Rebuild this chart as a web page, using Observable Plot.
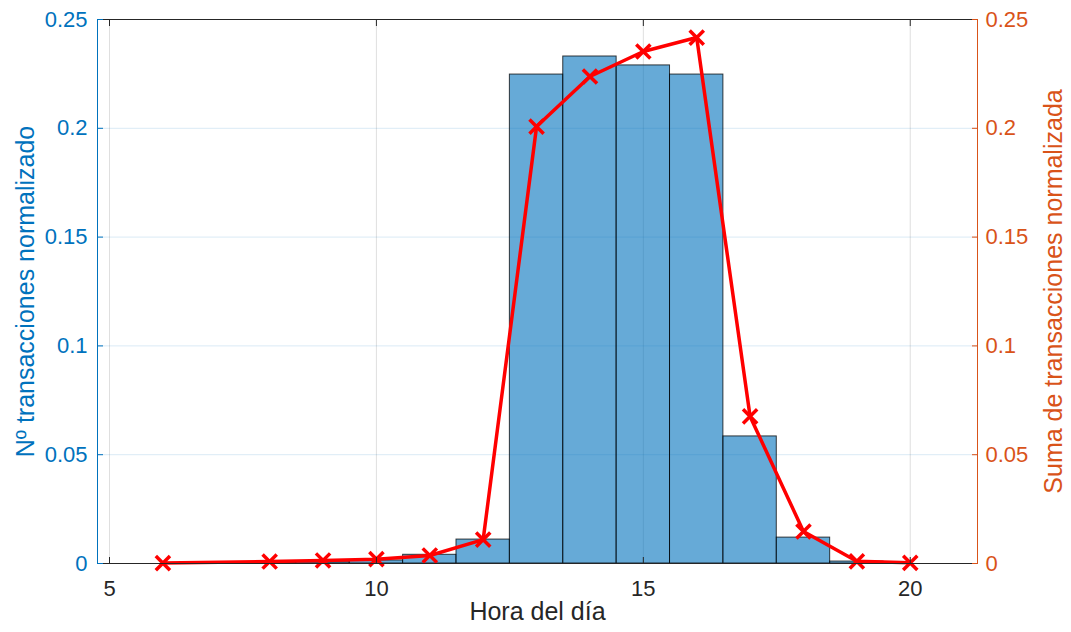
<!DOCTYPE html>
<html><head><meta charset="utf-8">
<script src="https://cdn.jsdelivr.net/npm/d3@7"></script>
<script src="https://cdn.jsdelivr.net/npm/@observablehq/plot@0.6"></script>
<style>html,body{margin:0;padding:0;background:#fff;}</style>
</head><body><div id="chart"></div>
<script>
// Histogram (left axis): hour bins centred on integers, width 1
const barHours  = [8, 9, 10, 11, 12, 13, 14, 15, 16, 17, 18, 19];
const barValues = [0.0003, 0.0006, 0.0014, 0.004, 0.011, 0.2247, 0.2330, 0.2289, 0.2247, 0.0584, 0.0119, 0.0009];
// Line (right axis)
const lineHours  = [6, 8, 9, 10, 11, 12, 13, 14, 15, 16, 17, 18, 19, 20];
const lineValues = [0.0002, 0.0009, 0.0014, 0.002, 0.0037, 0.011, 0.2008, 0.2238, 0.2353, 0.2417, 0.0676, 0.0147, 0.0010, 0.0003];
const xTicks = [5, 10, 15, 20];
const yTicks = [0, 0.05, 0.1, 0.15, 0.2, 0.25];
const yTickLabels = ["0", "0.05", "0.1", "0.15", "0.2", "0.25"];
const xLabel = "Hora del día";
const yLeftLabel = "Nº transacciones normalizado";
const yRightLabel = "Suma de transacciones normalizada";

const BLUE = "#0072BD", ORANGE = "#D95319", DARK = "#262626";
const bars = barHours.map((h, i) => ({h, v: barValues[i]}));
const line = lineHours.map((h, i) => ({h, v: lineValues[i]}));
const fmtY = d => yTickLabels[yTicks.indexOf(d)];

const chart = Plot.plot({
  width: 1071, height: 632,
  marginLeft: 97, marginRight: 94, marginTop: 19, marginBottom: 69,
  style: {fontFamily: "'Liberation Sans', Arial, sans-serif", fontSize: "22px", background: "#fff", overflow: "visible"},
  x: {domain: [4.775, 21.26], axis: null},
  y: {domain: [0, 0.25], axis: null},
  marks: [
    Plot.gridX(xTicks, {stroke: DARK, strokeOpacity: 0.15}),
    Plot.gridY(yTicks, {stroke: BLUE, strokeOpacity: 0.15}),
    Plot.rect(bars, {x1: d => d.h - 0.5, x2: d => d.h + 0.5, y1: 0, y2: "v", fill: BLUE, fillOpacity: 0.6, stroke: "#000", strokeOpacity: 0.75, strokeWidth: 1}),
    Plot.line(line, {x: "h", y: "v", stroke: "#FF0000", strokeWidth: 3.5}),
    Plot.dot(line, {x: "h", y: "v", symbol: "times", r: 6.5, stroke: "#FF0000", strokeWidth: 3.5}),
    Plot.frame({stroke: DARK}),
    Plot.frame({anchor: "left", stroke: BLUE}),
    Plot.frame({anchor: "right", stroke: ORANGE}),
    Plot.axisX(xTicks, {anchor: "bottom", tickSize: 6, insetBottom: 6, tickPadding: 17, color: DARK, fontSize: 22, label: null}),
    Plot.axisX(xTicks, {anchor: "top", tickSize: 6, insetTop: 6, tickFormat: () => "", color: DARK, label: null}),
    Plot.axisY(yTicks, {anchor: "left", tickSize: 6, insetLeft: 6, tickPadding: 10, tickFormat: fmtY, color: BLUE, fontSize: 22, label: null}),
    Plot.axisY(yTicks, {anchor: "right", tickSize: 6, insetRight: 6, tickPadding: 8, tickFormat: fmtY, color: ORANGE, fontSize: 22, label: null}),
    Plot.text([xLabel], {frameAnchor: "bottom", dy: 56, fontSize: 25, fill: DARK, textAnchor: "middle"}),
    Plot.text([yLeftLabel], {frameAnchor: "left", rotate: -90, dx: -72, fontSize: 25, fill: BLUE, textAnchor: "middle"}),
    Plot.text([yRightLabel], {frameAnchor: "right", rotate: -90, dx: 76, fontSize: 25, fill: ORANGE, textAnchor: "middle"})
  ]
});
document.getElementById("chart").appendChild(chart);
</script>
</body></html>
